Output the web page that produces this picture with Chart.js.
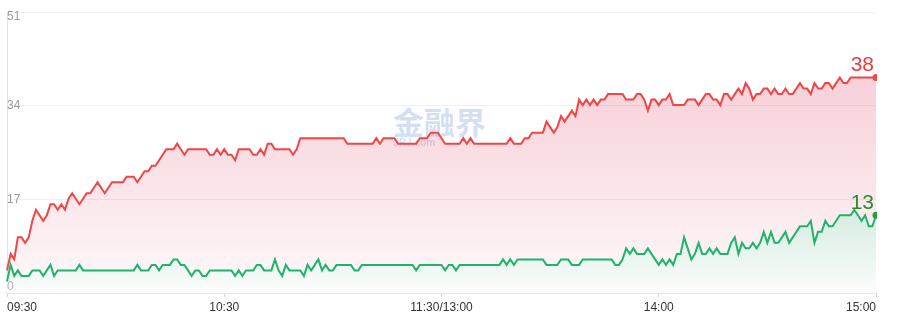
<!DOCTYPE html>
<html><head><meta charset="utf-8">
<script src="https://cdn.jsdelivr.net/npm/chart.js@4.4.1/dist/chart.umd.min.js"></script>
<style>html,body{margin:0;padding:0;background:#fff}#wrap{width:904px;height:320px;position:relative}</style>
</head><body><div id="wrap"><canvas id="c" width="904" height="320"></canvas></div>
<script>
// ---- data ----
const sessions = [["09:30","11:30"],["13:01","15:00"]];
const xTickIndex = [0, 60, 120, 180, 240];
const xTickLabels = ["09:30","10:30","11:30/13:00","14:00","15:00"];
const yTickLabels = [0, 17, 34, 51];
const seriesNames = ["涨停","跌停"];
const redValues = [
 3,6,5,9,9,8,9,12,14,13,
 12,13,15,15,14,15,14,16,17,16,
 15,16,17,17,18,19,18,17,18,19,
 19,19,19,20,20,20,19,20,21,21,
 22,22,23,24,25,25,25,26,25,24,
 25,25,25,25,25,25,24,24,25,24,
 25,24,24,23,25,25,25,25,24,24,
 25,24,26,26,25,25,25,25,25,24,
 25,27,27,27,27,27,27,27,27,27,
 27,27,27,27,26,26,26,26,26,26,
 26,26,27,26,27,27,27,27,26,26,
 26,26,26,26,27,27,27,28,28,28,
 27,26,26,26,26,26,27,26,27,26,
 26,26,26,26,26,26,26,26,26,27,
 26,26,26,27,27,28,28,28,28,30,
 29,28,29,31,30,31,32,31,34,33,
 34,33,34,33,34,34,35,35,35,35,
 35,34,34,34,35,35,34,32,34,34,
 33,34,34,35,33,33,33,33,34,34,
 34,33,34,35,35,34,34,33,35,35,
 34,35,36,35,37,36,34,35,35,36,
 36,35,36,35,35,36,35,35,36,37,
 36,36,35,37,36,36,37,37,36,37,
 38,37,37,38,38,38,38,38,38,38,38
];
const greenValues = [
 1,4,2,3,2,2,2,3,3,3,
 2,3,4,2,3,3,3,3,3,3,
 4,3,3,3,3,3,3,3,3,3,
 3,3,3,3,3,3,4,3,3,3,
 4,4,3,4,4,4,5,5,4,4,
 3,2,3,3,2,2,3,3,3,3,
 3,3,3,2,3,2,3,3,3,4,
 4,3,3,3,5,3,2,4,3,3,
 3,3,2,4,3,4,5,3,4,3,
 3,4,4,4,4,4,3,3,4,4,
 4,4,4,4,4,4,4,4,4,4,
 4,4,4,3,4,4,4,4,4,4,
 4,3,4,4,3,4,4,4,4,4,
 4,4,4,4,4,4,4,5,4,5,
 4,5,5,5,5,5,5,5,5,4,
 4,4,4,5,5,5,4,4,4,5,
 5,5,5,5,5,5,5,5,4,4,
 5,7,6,7,6,6,6,7,6,5,
 4,5,4,5,4,6,6,9,7,5,
 6,8,6,6,7,6,7,6,6,6,
 8,9,6,8,7,7,8,7,8,10,
 8,10,8,8,9,10,8,9,10,11,
 11,11,12,8,10,10,12,11,11,12,
 13,13,13,13,14,13,12,13,11,11,13
];

// category labels (minutes of the two trading sessions)
function toMin(s){const p=s.split(":");return +p[0]*60 + +p[1];}
function fmt(m){return String(Math.floor(m/60)).padStart(2,"0")+":"+String(m%60).padStart(2,"0");}
const categories = [];
sessions.forEach(([a,b])=>{for(let m=toMin(a);m<=toMin(b);m++)categories.push(fmt(m));});

const FONT = "'Liberation Sans', Arial, sans-serif";
const Y_SHIFT = 1.1; // zero baseline sits slightly above the axis floor in the reference

function lastOnly(r){return ctx => ctx.dataIndex === ctx.dataset.data.length-1 ? r : 0;}

const redFill = ctx => {
  const a = ctx.chart.chartArea; if(!a) return 'rgba(225,70,100,0.15)';
  const g = ctx.chart.ctx.createLinearGradient(0,a.top,0,a.bottom);
  g.addColorStop(0,'rgba(222,62,96,0.30)');
  g.addColorStop(0.25,'rgba(222,62,96,0.24)');
  g.addColorStop(1,'rgba(222,62,96,0.03)');
  return g;
};
const greenFill = ctx => {
  const a = ctx.chart.chartArea; if(!a) return '#e6f3ec';
  const g = ctx.chart.ctx.createLinearGradient(0,200,0,a.bottom);
  g.addColorStop(0,'rgb(208,233,220)');
  g.addColorStop(1,'rgb(252,253,252)');
  return g;
};

const decor = {
  id:'decor',
  beforeDatasetsDraw(chart){
    const {ctx, chartArea:a} = chart;
    const cx = (a.left+a.right)/2;
    ctx.save();
    ctx.fillStyle = 'rgba(70,120,200,0.24)';
    ctx.textAlign = 'center'; ctx.textBaseline = 'alphabetic';
    ctx.font = "bold 31px 'Noto Sans CJK SC'";
    ctx.fillText('金融界', cx-2, a.top+122);
    ctx.font = "bold 10px " + FONT;
    ctx.textAlign = 'left';
    ctx.fillText('JRJ.com', cx-48, a.top+134);
    ctx.restore();
  },
  afterDraw(chart){
    const {ctx, chartArea:a} = chart;
    const ys = chart.scales.y;
    ctx.save();
    ctx.font = "12px " + FONT;
    ctx.textAlign = 'left'; ctx.textBaseline = 'alphabetic';
    ys.ticks.forEach((t,i)=>{
      const py = ys.getPixelForValue(t.value);
      let off = 3.5;
      if(i===0) off = -3.5;
      if(i===ys.ticks.length-1) off = 8;
      ctx.fillStyle = i===0 ? '#b4b4b4' : '#9a9a9a';
      ctx.fillText(String(yTickLabels[i]), a.left, py+off);
    });
    // end-value labels
    const colors = ['#ee3b3b','#2f8a2f'];
    chart.data.datasets.forEach((ds,di)=>{
      const meta = chart.getDatasetMeta(di);
      const n = ds.data.length-1;
      const p = meta.data[n];
      ctx.font = "21px " + FONT;
      ctx.textAlign = 'right';
      ctx.fillStyle = colors[di];
      ctx.fillText(String(ds.data[n]), p.x-2, p.y-6.5);
    });
    ctx.restore();
  }
};

new Chart(document.getElementById('c'), {
  type:'line',
  data:{
    labels: categories,
    datasets:[
      {label:seriesNames[0], data:redValues, borderColor:'#f04646', borderWidth:2, fill:'start',
       backgroundColor:redFill, pointRadius:lastOnly(3.5), pointBackgroundColor:'#f04646', pointBorderWidth:0,
       pointHoverRadius:0, tension:0, order:2, clip:{left:1, top:false, right:1, bottom:1}},
      {label:seriesNames[1], data:greenValues, borderColor:'#1fb46e', borderWidth:2, fill:'start',
       backgroundColor:greenFill, pointRadius:lastOnly(3.5), pointBackgroundColor:'#2a9a3a', pointBorderWidth:0,
       pointHoverRadius:0, tension:0, order:1, clip:{left:1, top:false, right:1, bottom:1}}
    ]
  },
  options:{
    responsive:false, animation:false, devicePixelRatio:1,
    layout:{padding:{top:12,right:28,left:0,bottom:0}},
    plugins:{legend:{display:false}, tooltip:{enabled:false}},
    events:[],
    scales:{
      x:{
        type:'category', offset:false,
        grid:{drawOnChartArea:false, drawTicks:true, tickLength:4, color:'#d6d6de'},
        border:{display:true, color:'#e6e6ee', width:2},
        ticks:{autoSkip:false, maxRotation:0, align:'inner', padding:3, color:'#333',
               font:{size:12, family:FONT}, callback:(v,i)=>xTickLabels[i]},
        afterBuildTicks:s=>{s.ticks = xTickIndex.map(v=>({value:v}));},
        afterFit:s=>{s.height = 27;}
      },
      y:{
        min: yTickLabels[0]-Y_SHIFT, max: yTickLabels[yTickLabels.length-1]-Y_SHIFT,
        grid:{color:'#efeff3', drawTicks:false},
        border:{display:true, color:'#e2e2ee', width:1},
        ticks:{display:false},
        afterBuildTicks:s=>{s.ticks = yTickLabels.map(v=>({value:v-Y_SHIFT}));},
        afterFit:s=>{s.width = 7;}
      }
    }
  },
  plugins:[decor]
});
</script>
</body></html>
